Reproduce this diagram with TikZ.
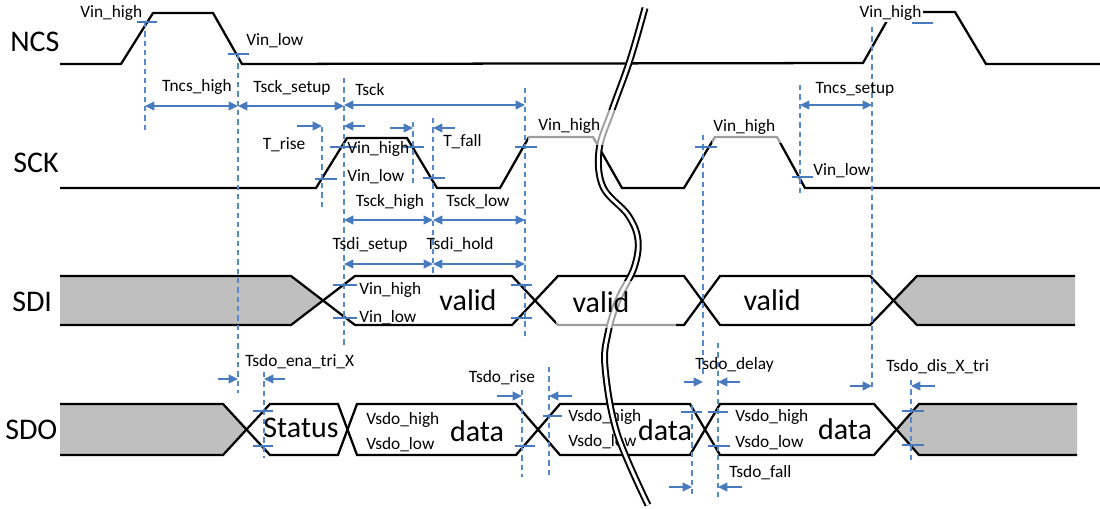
\documentclass[tikz,border=0pt]{standalone}
\usepackage{fontspec}
\setmainfont{Carlito}
\usetikzlibrary{arrows.meta}
\definecolor{dashc}{RGB}{84,138,204}
\definecolor{arrc}{RGB}{72,122,190}
\definecolor{gfill}{RGB}{191,191,191}
\newcommand\lblfnt{\fontsize{13}{15}\selectfont}
\newcommand\bgfnt{\fontsize{22.5}{24}\selectfont}
\begin{document}
\begin{tikzpicture}[x=0.75pt,y=-0.75pt,
  sig/.style={line width=1.7pt, draw=black},
  vd/.style={draw=dashc, line width=1pt, dash pattern=on 4pt off 3pt},
  tk/.style={draw=arrc, line width=1.2pt},
  dimline/.style={draw=arrc, line width=1.2pt, {Triangle[length=7pt,width=6.5pt]}-{Triangle[length=7pt,width=6.5pt]}},
  onearr/.style={draw=arrc, line width=1.2pt, -{Triangle[length=7pt,width=6.5pt]}},
  lab/.style={font=\lblfnt, inner sep=0pt},
  big/.style={font=\bgfnt, inner sep=0pt},
  breakline/.style={draw=black, line width=1.5pt, double=white, double distance=2.2pt},
  veil/.style={fill=white, fill opacity=0.62}
]
\useasboundingbox (0,0) rectangle (1100,508);

% signal names
\node[big,anchor=west] (ncs) at (10,42) {NCS};
\node[big,anchor=west] (sck) at (13,163) {SCK};
\node[big,anchor=west] (sdi) at (12,302) {SDI};
\node[big,anchor=west] (sdo) at (5,430) {SDO};

% gray fills
\fill[gfill] (60,276)--(291,276)--(323,300.5)--(291,325)--(60,325)--cycle;
\fill[gfill] (1075,276)--(917,276)--(893.5,300.5)--(917,325)--(1075,325)--cycle;
\fill[gfill] (60,404)--(223,404)--(246.5,429.5)--(223,455)--(60,455)--cycle;
\fill[gfill] (1077,404)--(919,404)--(896.5,429.5)--(919,455)--(1077,455)--cycle;

% NCS
\draw[sig] (60,64)--(121,64)--(153,13)--(213,13)--(242,64)--(863,63)--(892,12)--(955,12)--(986,64)--(1100,64);
% SCK
\draw[sig] (60,188)--(316,188)--(347,138)--(407,138)--(437,188)--(500,188)--(529,137)--(593,137)--(622,188)--(684,188)--(715,137)--(777,137)--(805,188)--(1100,188);
% SDI
\draw[sig] (60,276)--(291,276)--(355,325)--(512,325)--(558,276)--(684,276)--(720,325)--(870,325)--(917,276)--(1075,276);
\draw[sig] (60,325)--(291,325)--(355,276)--(512,276)--(558,325)--(684,325)--(720,276)--(870,276)--(917,325)--(1075,325);
% SDO
\draw[sig] (60,404)--(223,404)--(270,455)--(338,455)--(357,404)--(516,404)--(560,455)--(690,455)--(720,404)--(874,404)--(919,455)--(1077,455);
\draw[sig] (60,455)--(223,455)--(270,404)--(338,404)--(357,455)--(516,455)--(560,404)--(690,404)--(720,455)--(874,455)--(919,404)--(1077,404);

% dashed verticals
\draw[vd] (145,22)--(145,133);
\draw[vd] (238,54)--(238,393);
\draw[vd] (322,127)--(322,208);
\draw[vd] (344,78)--(344,345);
\draw[vd] (413,122)--(413,185);
\draw[vd] (433,118)--(433,275);
\draw[vd] (525,88)--(525,340);
\draw[vd] (703,135)--(703,375);
\draw[vd] (800,85)--(800,197);
\draw[vd] (872,27)--(872,387);
\draw[vd] (264,372)--(264,458);
\draw[vd] (522,390)--(522,477);
\draw[vd] (549,367)--(549,477);
\draw[vd] (692,405)--(692,497);
\draw[vd] (718,343)--(718,497);
\draw[vd] (911,380)--(911,460);

% level ticks
\draw[tk] (137,22)--(157,22);
\draw[tk] (228,54)--(249,54);
\draw[tk] (912,23)--(933,23);
\draw[tk] (315,179)--(337,179);
\draw[tk] (330,147)--(357,147);
\draw[tk] (403,147)--(424,147);
\draw[tk] (423,178)--(445,178);
\draw[tk] (515,147)--(537,147);
\draw[tk] (695,147)--(717,147);
\draw[tk] (792,177)--(813,177);
\draw[tk] (333,285)--(357,285);
\draw[tk] (333,318)--(357,318);
\draw[tk] (511,285)--(532,285);
\draw[tk] (511,318)--(532,318);
\draw[tk] (253,411)--(273,411);
\draw[tk] (253,446)--(273,446);
\draw[tk] (515,446)--(535,446);
\draw[tk] (543,416)--(562,416);
\draw[tk] (681,412)--(702,412);
\draw[tk] (708,412)--(728,412);
\draw[tk] (708,446)--(730,446);
\draw[tk] (902,411)--(924,411);
\draw[tk] (902,445)--(924,445);

% dimension arrows
\draw[dimline] (145,106)--(238,106);
\draw[dimline] (238,106)--(344,106);
\draw[dimline] (344,105)--(525,105);
\draw[onearr] (297,126)--(322,126);
\draw[onearr] (365,126)--(344,126);
\draw[onearr] (390,128)--(413,128);
\draw[onearr] (455,128)--(433,128);
\draw[dimline] (344,220)--(433,220);
\draw[dimline] (433,220)--(525,220);
\draw[dimline] (344,264)--(433,264);
\draw[dimline] (433,264)--(525,264);
\draw[dimline] (800,105)--(872,105);
\draw[onearr] (218,379)--(238,379);
\draw[onearr] (285,379)--(264,379);
\draw[onearr] (497,396)--(522,396);
\draw[onearr] (572,396)--(549,396);
\draw[onearr] (684,382)--(703,382);
\draw[onearr] (740,382)--(718,382);
\draw[onearr] (669,487)--(692,487);
\draw[onearr] (742,487)--(718,487);
\draw[onearr] (850,386)--(872,386);
\draw[onearr] (935,386)--(911,386);

% timing labels
\node[lab] (l1) at (197,87) {Tncs\_high};
\node[lab] (l2) at (292,88) {Tsck\_setup};
\node[lab,anchor=west] (l3) at (355,90) {Tsck};
\node[lab] (l4) at (284,145) {T\_rise};
\node[lab,anchor=west] (l5) at (443,142) {T\_fall};
\node[lab] (l6) at (390,202) {Tsck\_high};
\node[lab] (l7) at (478,202) {Tsck\_low};
\node[lab] (l8) at (370,245) {Tsdi\_setup};
\node[lab] (l9) at (460,245) {Tsdi\_hold};
\node[lab] (l10) at (855,89) {Tncs\_setup};
\node[lab,anchor=west] (l11) at (245,362) {Tsdo\_ena\_tri\_X};
\node[lab] (l12) at (502,378) {Tsdo\_rise};
\node[lab,anchor=west] (l13) at (695,365) {Tsdo\_delay};
\node[lab,anchor=west] (l14) at (729,473) {Tsdo\_fall};
\node[lab,anchor=west] (l15) at (886,367) {Tsdo\_dis\_X\_tri};

% level labels
\node[lab,anchor=west] (v1) at (80,13) {Vin\_high};
\node[lab,anchor=west] (v2) at (246,41) {Vin\_low};
\node[lab,anchor=west] (v3) at (347,149) {Vin\_high};
\node[lab,anchor=west] (v4) at (347,177) {Vin\_low};
\node[lab,anchor=west] (v6) at (813,171) {Vin\_low};
\node[lab,anchor=west,fill=white,inner sep=1pt] (v7) at (858,13) {Vin\_high};
\node[lab,anchor=west] (v8) at (359,290) {Vin\_high};
\node[lab,anchor=west] (v9) at (359,318) {Vin\_low};
\node[lab,anchor=west] (s1) at (366,420) {Vsdo\_high};
\node[lab,anchor=west] (s2) at (366,445) {Vsdo\_low};
\node[lab,anchor=west] (s3) at (568,417) {Vsdo\_high};
\node[lab,anchor=west] (s4) at (568,442) {Vsdo\_low};
\node[lab,anchor=west] (s5) at (735,417) {Vsdo\_high};
\node[lab,anchor=west] (s6) at (735,443) {Vsdo\_low};

% big texts
\node[big] (d1) at (468,300) {valid};
\node[big] (d3) at (772,300) {valid};
\node[big] (st) at (301,428) {Status};
\node[big] (x1) at (477,431) {data};
\node[big] (x2) at (665,430) {data};
\node[big] (x3) at (845,429) {data};

% break mark
\draw[breakline] plot[smooth, tension=0.6] coordinates {(645,8) (630,60) (612,110) (599,150) (603,187) (628,215) (638,240) (634,268) (618,300) (608,333) (605,367) (617,433) (648,505)};

% translucent label boxes
\fill[veil] (528,110) rectangle (625,145);
\fill[veil] (712,110) rectangle (790,143);
\fill[veil] (556,281) rectangle (676,328);
\node[lab,anchor=west] (v5) at (538,126) {Vin\_high};
\node[lab,anchor=west] (v10) at (713,127) {Vin\_high};
\node[big] (d2) at (601,302) {valid};
\end{tikzpicture}
\end{document}
